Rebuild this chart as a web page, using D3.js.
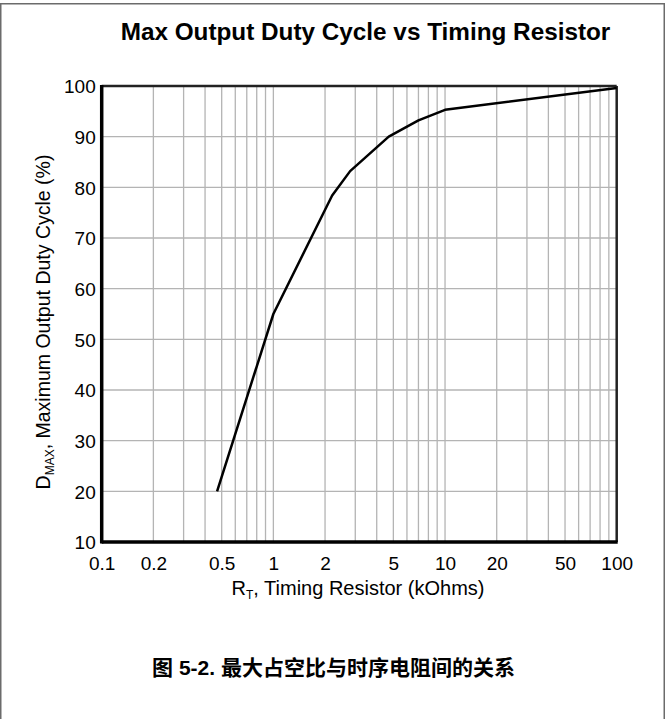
<!DOCTYPE html>
<html><head><meta charset="utf-8">
<script src="https://cdn.jsdelivr.net/npm/d3@7"></script>
<style>body{margin:0;background:#fff}svg{display:block}</style>
</head><body>
<svg id="c" width="668" height="719"></svg>
<script>
const rtValues = [0.47, 1.0, 2.2, 2.8, 4.7, 7.0, 10, 100];
const dmaxValues = [20, 55, 78.4, 83.2, 90, 93.2, 95.3, 99.6];
const xTickLabels = [0.1, 0.2, 0.5, 1, 2, 5, 10, 20, 50, 100];
const yTickLabels = [10, 20, 30, 40, 50, 60, 70, 80, 90, 100];
const chartTitle = "Max Output Duty Cycle vs Timing Resistor";
const caption = "图 5-2. 最大占空比与时序电阻间的关系";

const svg = d3.select("#c");
const font = "'Liberation Sans', Arial, sans-serif";
const L = 101.7, R = 616.7, T = 86, B = 542;
const x = d3.scaleLog().domain([0.1, 100]).range([L, R]);
const y = d3.scaleLinear().domain([10, 100]).range([B, T]);

// outer border
svg.append("rect").attr("x", 0.75).attr("y", 3.75).attr("width", 663.5).attr("height", 720)
  .attr("fill", "none").attr("stroke", "#6b6b6b").attr("stroke-width", 1.5);

// grid
const minor = [];
for (let d = 0.1; d < 100; d *= 10) for (let k = 1; k <= 9; k++) minor.push(+(d * k).toPrecision(3));
const g = svg.append("g");
g.selectAll("line.vx").data(minor.filter(v => v > 0.1)).enter().append("line")
  .attr("x1", d => x(d)).attr("x2", d => x(d)).attr("y1", T).attr("y2", B)
  .attr("stroke", "#b4b4b4").attr("stroke-width", 1.3);
g.selectAll("line.hy").data(yTickLabels.filter(v => v > 10 && v < 100)).enter().append("line")
  .attr("x1", L).attr("x2", R).attr("y1", d => y(d)).attr("y2", d => y(d))
  .attr("stroke", "#b4b4b4").attr("stroke-width", 1.3);

// frame
svg.append("line").attr("x1", L).attr("x2", R).attr("y1", T).attr("y2", T).attr("stroke", "#222").attr("stroke-width", 2.5);
svg.append("line").attr("x1", R).attr("x2", R).attr("y1", T).attr("y2", B).attr("stroke", "#222").attr("stroke-width", 2.5);
svg.append("line").attr("x1", L).attr("x2", R + 1).attr("y1", B).attr("y2", B).attr("stroke", "#000").attr("stroke-width", 3.5);
svg.append("line").attr("x1", L).attr("x2", L).attr("y1", T - 1).attr("y2", B + 1.5).attr("stroke", "#000").attr("stroke-width", 3.5);

// data line
const line = d3.line().x((d, i) => x(rtValues[i])).y(d => y(d));
svg.append("path").datum(dmaxValues).attr("d", line)
  .attr("fill", "none").attr("stroke", "#000").attr("stroke-width", 2.5).attr("stroke-linejoin", "round");

// axes labels
const xAxis = d3.axisBottom(x).tickValues(xTickLabels).tickSize(0).tickPadding(0)
  .tickFormat(d => String(d));
const xa = svg.append("g").attr("transform", `translate(0,${B})`).call(xAxis);
xa.select(".domain").remove();
xa.selectAll("text").attr("dy", null).attr("y", 28).attr("font-family", font).attr("font-size", 19).attr("fill", "#000");

const yAxis = d3.axisLeft(y).tickValues(yTickLabels).tickSize(0).tickPadding(0);
const ya = svg.append("g").attr("transform", `translate(${L - 6},0)`).call(yAxis);
ya.select(".domain").remove();
ya.selectAll("text").attr("dy", "0.36em").attr("font-family", font).attr("font-size", 19).attr("fill", "#000");

// title
svg.append("text").attr("x", 365.5).attr("y", 40).attr("text-anchor", "middle")
  .attr("font-family", font).attr("font-weight", "bold").attr("font-size", 24.3).text(chartTitle);

// x title
const xt = svg.append("text").attr("x", 358).attr("y", 595).attr("text-anchor", "middle")
  .attr("font-family", font).attr("font-size", 20);
xt.append("tspan").text("R");
xt.append("tspan").attr("font-size", 12).attr("dy", 4).text("T");
xt.append("tspan").attr("dy", -4).text(", Timing Resistor (kOhms)");

// y title
const yt = svg.append("text").attr("transform", "translate(50,322) rotate(-90)").attr("text-anchor", "middle")
  .attr("font-family", font).attr("font-size", 19.5);
yt.append("tspan").text("D");
yt.append("tspan").attr("font-size", 12).attr("dy", 4).text("MAX");
yt.append("tspan").attr("dy", -4).text(", Maximum Output Duty Cycle (%)");

// caption
svg.append("text").attr("x", 333.5).attr("y", 675).attr("text-anchor", "middle")
  .attr("font-family", "'Liberation Sans', 'Noto Sans CJK SC', sans-serif").attr("font-weight", "bold")
  .attr("font-size", 21).text(caption);
</script>
</body></html>
